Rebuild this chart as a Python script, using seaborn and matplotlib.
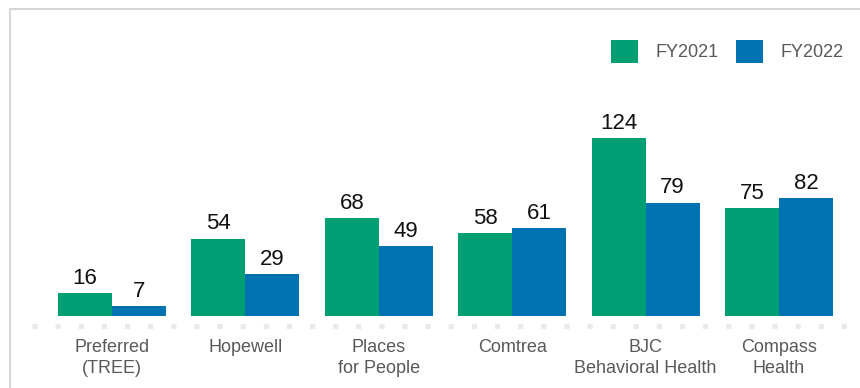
import matplotlib
matplotlib.use("Agg")
import matplotlib.pyplot as plt
import seaborn as sns
import pandas as pd
from matplotlib.lines import Line2D

# Program counts per provider, two fiscal years
providers = ["Preferred\n(TREE)", "Hopewell", "Places\nfor People", "Comtrea",
             "BJC\nBehavioral Health", "Compass\nHealth"]
fy2021 = [16, 54, 68, 58, 124, 75]
fy2022 = [7, 29, 49, 61, 79, 82]
years = ["FY2021", "FY2022"]
colors = ["#009E73", "#0072B2"]

df = pd.DataFrame({
    "provider": providers * 2,
    "year": [years[0]] * len(providers) + [years[1]] * len(providers),
    "count": fy2021 + fy2022,
})

sns.set_theme(style="white")
plt.rcParams["font.family"] = ["Liberation Sans", "DejaVu Sans"]

W, H = 860, 388
fig = plt.figure(figsize=(W / 100, H / 100), dpi=100)
ax = fig.add_axes([32 / W, 62 / H, 828 / W, 306 / H])

sns.barplot(data=df, x="provider", y="count", hue="year", order=providers,
            hue_order=years, palette=colors, width=0.81, gap=0,
            saturation=1, ax=ax, linewidth=0)

for cont in ax.containers:
    ax.bar_label(cont, fmt="%d", padding=3, fontsize=16, color="#111111")

ax.set_xlim(-0.6, 5.607)
ax.set_ylim(-6.97, 206.3)
ax.set_xlabel("")
ax.set_ylabel("")
ax.set_yticks([])
for s in ax.spines.values():
    s.set_visible(False)
ax.tick_params(axis="x", length=0, pad=9.5, labelsize=13, labelcolor="#595959")
for lab in ax.get_xticklabels():
    lab.set_linespacing(1.27)

# dotted baseline beneath the bars
ax.axhline(-6.97, color="#e9e9e9", linewidth=3.7,
           linestyle=(0, (1, 3.5)), dash_capstyle="butt", clip_on=False)

sns.move_legend(ax, loc="center left",
                bbox_to_anchor=(611 / W, 1 - 51.5 / H),
                bbox_transform=fig.transFigure, ncol=2, frameon=False,
                title=None, fontsize=13, handlelength=1.5, handleheight=1.5,
                handletextpad=0.94, columnspacing=1.0, borderpad=0,
                borderaxespad=0, labelcolor="#595959")

# light frame along the top and left edges
fig.add_artist(Line2D([10 / W, 10 / W], [0, 1 - 9 / H], transform=fig.transFigure,
                      color="#d6d6d6", linewidth=1.5))
fig.add_artist(Line2D([10 / W, 1], [1 - 9 / H, 1 - 9 / H], transform=fig.transFigure,
                      color="#d6d6d6", linewidth=1.5))

fig.savefig("out.png", dpi=100, facecolor="white")
